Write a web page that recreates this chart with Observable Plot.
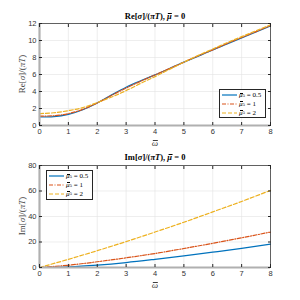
<!DOCTYPE html>
<html><head><meta charset="utf-8">
<script src="https://cdn.jsdelivr.net/npm/d3@7"></script>
<script src="https://cdn.jsdelivr.net/npm/@observablehq/plot@0.6"></script>
<style>
body{margin:0;background:#fff}
#c{position:relative;width:300px;height:300px;overflow:hidden}
#c svg.plot{display:block}
.ttl{position:absolute;font-family:"Liberation Serif",serif;font-weight:bold;font-size:8.5px;color:#000;white-space:nowrap;transform:translate(-50%,-50%)}
.ylab{position:absolute;font-family:"Liberation Serif",serif;font-size:9px;color:#404040;white-space:nowrap;transform:translate(-50%,-50%) rotate(-90deg)}
.xlab{position:absolute;font-family:"Liberation Serif",serif;font-size:9px;color:#404040;transform:translate(-50%,-50%)}
.leg{position:absolute;background:#fff;border:0.8px solid #262626;font-family:"Liberation Serif",serif;font-size:7px;color:#000;padding:1px 2px;box-sizing:border-box}
.leg div{display:flex;align-items:center;height:8.8px;white-space:nowrap}
.leg svg{margin-right:2px}
.leg sub{font-size:5px;vertical-align:-1.5px}
.bar{position:relative;display:inline-block;font-style:italic}
.bar::after{content:"";position:absolute;left:18%;right:0;top:0.18em;border-top:0.07em solid currentColor}
</style>
</head><body><div id="c"></div>
<script>
// ---- data ----
const omegaRe = [0,0.5,1,1.5,2,2.5,3,3.5,4,4.5,5,5.5,6,6.5,7,7.5,8];
const reMu05 = [1.0,1.05,1.3,1.85,2.65,3.6,4.5,5.25,5.95,6.7,7.45,8.15,8.9,9.6,10.3,11.0,11.7];
const reMu1  = [1.1,1.15,1.4,1.9,2.65,3.55,4.4,5.2,5.95,6.7,7.45,8.2,8.9,9.65,10.35,11.05,11.75];
const reMu2  = [1.4,1.5,1.75,2.1,2.7,3.35,4.1,4.95,5.75,6.6,7.45,8.25,9.0,9.75,10.45,11.15,11.85];
const omegaIm = [0,1,2,3,4,5,6,7,8];
const imMu05 = [0,0.5,1.9,3.9,6.4,9.1,12.0,15.0,18.3];
const imMu1  = [0,1.8,4.5,7.6,11.0,14.9,19.0,23.3,27.8];
const imMu2  = [0,6.4,13.2,20.3,27.8,35.5,43.6,51.8,60.5];
const muValues = ["0.5","1","2"];
const xTicks = [0,1,2,3,4,5,6,7,8];
const reTicks = [0,2,4,6,8,10,12];
const imTicks = [0,20,40,60,80];
const colors = ["#0072BD","#D95319","#EDB120"];
const dashes = ["none","4,1.5,1,1.5","4,2"];

function rows(xs, ys){ return xs.map((x,i)=>({x, y: ys[i]})); }

function makePlot(series, yDomain, yTicks, mt, mb){
  const marks = [
    Plot.gridX(xTicks, {stroke:"#e3e3e3", strokeOpacity:1, strokeWidth:0.6}),
    Plot.gridY(yTicks, {stroke:"#e3e3e3", strokeOpacity:1, strokeWidth:0.6}),
  ];
  series.forEach((s,i)=>{
    marks.push(Plot.line(s, {x:"x", y:"y", stroke:colors[i], strokeWidth:1.2, strokeDasharray:dashes[i], curve:"monotone-x"}));
  });
  marks.push(
    Plot.frame({stroke:"#262626", strokeWidth:0.7}),
    Plot.ruleX([0], {stroke:"#b0b0b0", strokeWidth:2.2}),
    Plot.ruleY([yDomain[0]], {stroke:"#b0b0b0", strokeWidth:2.2}),
    Plot.axisX({ticks:xTicks, tickSize:-3, tickPadding:6.5, label:null, stroke:"#262626", fill:"#333", fontSize:7.5}),
    Plot.axisY({ticks:yTicks, tickSize:-3, tickPadding:6, label:null, stroke:"#262626", fill:"#333", fontSize:7.5}),
    Plot.axisX({anchor:"top", ticks:xTicks, tickSize:-3, tickFormat:()=>"" , label:null, stroke:"#262626"}),
    Plot.axisY({anchor:"right", ticks:yTicks, tickSize:-3, tickFormat:()=>"", label:null, stroke:"#262626"})
  );
  const p = Plot.plot({
    width:300, height:150,
    marginLeft:39, marginRight:30, marginTop:mt, marginBottom:mb,
    style:{fontFamily:"'Liberation Sans', Arial, sans-serif", background:"#fff"},
    x:{domain:[0,8]},
    y:{domain:yDomain},
    marks
  });
  p.classList.add("plot");
  return p;
}

const c = document.getElementById("c");
c.appendChild(makePlot([rows(omegaRe,reMu05),rows(omegaRe,reMu1),rows(omegaRe,reMu2)],[0,12],reTicks,23,25));
c.appendChild(makePlot([rows(omegaIm,imMu05),rows(omegaIm,imMu1),rows(omegaIm,imMu2)],[0,80],imTicks,15,33));

function add(cls, html, x, y){
  const d = document.createElement("div");
  d.className = cls; d.innerHTML = html;
  d.style.left = x+"px"; d.style.top = y+"px";
  c.appendChild(d); return d;
}
const mubar = '<span class="bar">μ</span>';
add("ttl", "Re[<i>σ</i>]/(<i>πT</i>), "+mubar+" = 0", 155, 16);
add("ttl", "Im[<i>σ</i>]/(<i>πT</i>), "+mubar+" = 0", 155, 157);
add("ylab", "Re[<i>σ</i>]/(<i>πT</i>)", 22, 74);
add("ylab", "Im[<i>σ</i>]/(<i>πT</i>)", 22, 216);
add("xlab", '<span class="bar">ω</span>', 155, 143);
add("xlab", '<span class="bar">ω</span>', 155, 285);

function legend(x, y, w, h){
  const html = muValues.map((m,i)=>
    `<div><svg width="15" height="4"><line x1="0" y1="2" x2="15" y2="2" stroke="${colors[i]}" stroke-width="1.2" stroke-dasharray="${dashes[i]}"/></svg>${mubar}<sub>5</sub>&nbsp;=&nbsp;${m}</div>`
  ).join("");
  const d = add("leg", html, x, y);
  d.style.width = w+"px"; d.style.height = h+"px";
}
legend(219, 89, 47, 29);
legend(46, 170, 47, 30);
</script>
</body></html>
